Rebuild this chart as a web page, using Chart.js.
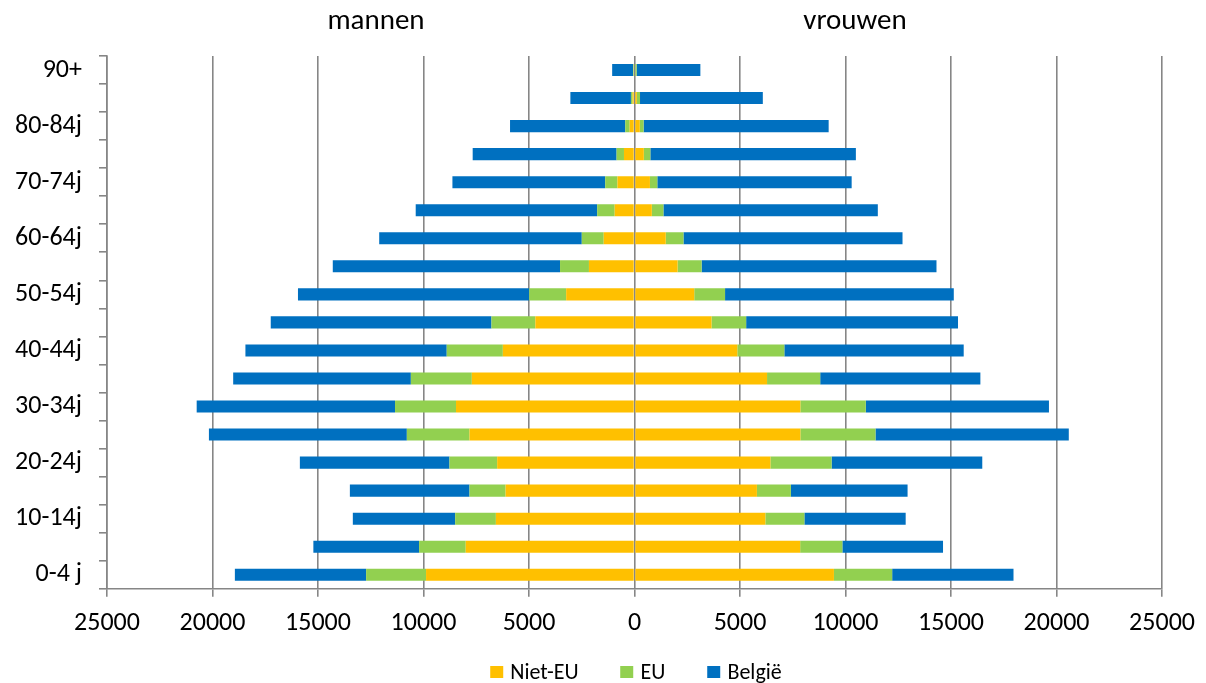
<!DOCTYPE html>
<html lang="nl">

<head>
    <meta charset="UTF-8" />
    <title>Bevolkingspiramide</title>
    <style>
        body {
            margin: 0;
            background: #fff;
            font-family: Carlito, Lato, sans-serif;
        }

        #wrapper {
            position: relative;
            width: 1206px;
            height: 683px;
        }

        .side {
            position: absolute;
            top: 5px;
            font-size: 29px;
            line-height: 29px;
            transform: translateX(-50%);
            color: #000;
        }

        #legend {
            position: absolute;
            top: 661px;
            left: 636px;
            transform: translateX(-50%);
            display: flex;
            align-items: center;
            font-size: 22px;
            line-height: 22px;
            white-space: nowrap;
        }

        #legend .item {
            display: flex;
            align-items: center;
            margin: 0 21px;
        }

        #legend .box {
            width: 13px;
            height: 12px;
            margin-right: 7px;
        }
    </style>
</head>

<body>
    <div id="wrapper">
        <canvas id="chart" width="1206" height="683"></canvas>
        <div class="side" style="left:376px">mannen</div>
        <div class="side" style="left:855px">vrouwen</div>
        <div id="legend"></div>
    </div>

    <script src="https://cdn.jsdelivr.net/npm/chart.js@4/dist/chart.umd.min.js"></script>
    <script>
        // leeftijdsklassen, van jong naar oud
        const ageGroups = ["0-4 j", "5-9j", "10-14j", "15-19j", "20-24j", "25-29j", "30-34j", "35-39j",
            "40-44j", "45-49j", "50-54j", "55-59j", "60-64j", "65-69j", "70-74j", "75-79j",
            "80-84j", "85-89j", "90+"];

        const seriesNames = ["Niet-EU", "EU", "België"];
        const seriesColors = ["#FFC000", "#92D050", "#0070C0"];

        // mannen (worden links getekend)
        const menNietEU = [9880, 8000, 6570, 6110, 6510, 7820, 8460, 7710, 6240, 4700, 3240, 2160, 1460, 940, 810, 500, 230, 90, 40];
        const menEU = [2840, 2210, 1930, 1710, 2260, 2970, 2890, 2890, 2660, 2080, 1750, 1370, 1040, 830, 580, 350, 210, 80, 30];
        const menBelgie = [6220, 5010, 4850, 5670, 7090, 9380, 9400, 8420, 9540, 10460, 10960, 10770, 9600, 8600, 7240, 6820, 5460, 2870, 990];

        // vrouwen (rechts)
        const womenNietEU = [9450, 7850, 6200, 5800, 6440, 7860, 7860, 6280, 4870, 3650, 2830, 2040, 1480, 820, 730, 440, 250, 110, 40];
        const womenEU = [2760, 2000, 1850, 1610, 2900, 3560, 3100, 2520, 2230, 1640, 1460, 1140, 840, 550, 350, 310, 180, 150, 60];
        const womenBelgie = [5750, 4770, 4800, 5530, 7140, 9160, 8680, 7590, 8500, 10040, 10840, 11130, 10380, 10160, 9210, 9740, 8770, 5820, 3020];

        const xTicks = { min: -25000, max: 25000, step: 5000 };

        const menSeries = [menNietEU, menEU, menBelgie];
        const womenSeries = [womenNietEU, womenEU, womenBelgie];

        const datasets = [];
        seriesNames.forEach((name, i) => {
            datasets.push({
                label: name,
                data: menSeries[i].map(v => -v),
                backgroundColor: seriesColors[i],
                stack: "pop"
            });
            datasets.push({
                label: name,
                data: womenSeries[i],
                backgroundColor: seriesColors[i],
                stack: "pop"
            });
        });

        const gray = "#868686";
        const font = { family: "Carlito, Lato, sans-serif", size: 26 };

        new Chart("chart", {
            type: "bar",
            data: { labels: ageGroups, datasets: datasets },
            options: {
                indexAxis: "y",
                responsive: false,
                animation: false,
                categoryPercentage: 0.43,
                barPercentage: 1,
                borderWidth: 0,
                layout: { padding: { top: 56, right: 33, bottom: 33, left: 0 } },
                plugins: {
                    legend: { display: false },
                    tooltip: { enabled: false }
                },
                scales: {
                    x: {
                        type: "linear",
                        stacked: true,
                        min: xTicks.min,
                        max: xTicks.max,
                        ticks: {
                            stepSize: xTicks.step,
                            color: "#000",
                            font: font,
                            padding: 11,
                            maxRotation: 0,
                            callback: v => Math.abs(v)
                        },
                        grid: { color: gray, lineWidth: 1.6, tickLength: 8 },
                        border: { color: gray, width: 1.6 }
                    },
                    y: {
                        type: "category",
                        stacked: true,
                        reverse: true,
                        afterFit: s => { s.width = 107; },
                        ticks: {
                            autoSkip: false,
                            color: "#000",
                            font: font,
                            padding: 17,
                            callback: function (v, i) {
                                return i % 2 === 0 ? this.getLabelForValue(v) : "";
                            }
                        },
                        grid: { drawOnChartArea: false, offset: true, color: gray, lineWidth: 1.6, tickLength: 8 },
                        border: { color: gray, width: 1.6 }
                    }
                }
            }
        });

        // legende
        const legend = document.getElementById("legend");
        seriesNames.forEach((name, i) => {
            const item = document.createElement("div");
            item.className = "item";
            const box = document.createElement("span");
            box.className = "box";
            box.style.background = seriesColors[i];
            const txt = document.createElement("span");
            txt.textContent = name;
            item.appendChild(box);
            item.appendChild(txt);
            legend.appendChild(item);
        });
    </script>
</body>

</html>
